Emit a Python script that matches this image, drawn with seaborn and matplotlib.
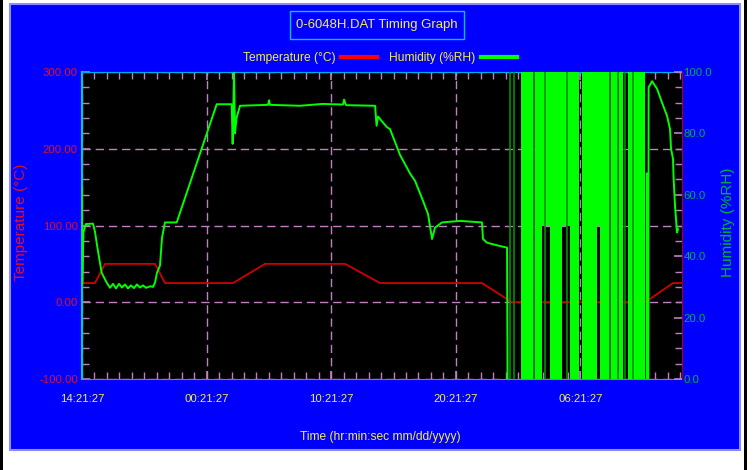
import matplotlib
matplotlib.use("Agg")
import matplotlib.pyplot as plt
from matplotlib import font_manager
from matplotlib.lines import Line2D
from matplotlib.patches import Rectangle
from matplotlib.ticker import FixedLocator, MultipleLocator, FormatStrFormatter
import seaborn as sns

W, H = 753, 470

# time axis: hours after the first reading (14:21:27)
x_ticks = [0, 10, 20, 30, 40]
x_tick_labels = ["14:21:27", "00:21:27", "10:21:27", "20:21:27", "06:21:27"]
x_max = 48.15

# temperature (deg C, left axis)
temp_time = [0.0, 1.04, 1.85, 5.86, 6.66, 12.12, 14.69, 21.11, 23.92,
             32.10, 34.51, 45.19, 47.43, 48.15]
temp_vals = [25, 25, 50, 50, 25, 25, 50, 50, 25, 25, 0, 0, 25, 25]

# humidity (%RH, right axis) before the sensor fault
hum_time = [0.0, 0.02, 0.12, 0.32, 0.88, 1.04, 1.28, 1.58, 1.98, 2.25, 2.49,
            2.73, 2.97, 3.21, 3.45, 3.69, 3.93, 4.17, 4.41, 4.65, 4.90, 5.14,
            5.46, 5.70, 5.86, 6.02, 6.26, 6.42, 6.66, 7.60, 10.81, 12.01,
            12.09, 12.20, 12.28, 12.40, 12.68, 14.93, 15.01, 15.09, 17.50,
            19.30, 20.95, 21.03, 21.19, 23.52, 23.64, 23.76, 24.16, 24.48,
            24.72, 25.52, 26.32, 26.73, 27.37, 27.77, 28.09, 28.33, 28.89,
            30.34, 32.10, 32.18, 32.50, 33.55, 34.11, 34.15]
hum_vals = [62, 31, 48, 50.5, 50.6, 48, 41.7, 34.6, 31.4, 29.7, 31, 29.5, 31,
            29.8, 30.8, 29.5, 30.5, 29.6, 30.8, 29.8, 30.5, 29.7, 30.2, 30,
            31.4, 34.6, 37, 46, 51, 51, 89.5, 89.5, 76.6, 100, 80, 85, 89,
            89.3, 90.8, 89.3, 89.0, 89.6, 89.4, 91, 89.2, 89, 82.5, 85.5,
            83.5, 82, 81.4, 73, 67, 64.5, 58, 53.7, 45.6, 49.3, 51, 51.5, 51,
            45.6, 44.4, 43.3, 42.8, 0]

# humidity after the fault
hum_tail_time = [45.32, 45.33, 45.34, 45.45, 45.47, 45.75, 46.15, 46.55,
                 46.95, 47.19, 47.27, 47.43, 47.47, 47.59, 47.75, 47.83]
hum_tail_vals = [0, 67, 0, 0, 95, 97, 94.5, 90, 85.7, 81.4, 75, 71.7, 66,
                 56.4, 47.7, 48.8]

# sensor fault: readings swinging between the floor and 100 %RH
fault_start = [35.21, 36.36, 36.89, 37.56, 38.50, 39.17, 40.10, 41.31,
               41.57, 42.46, 43.10, 43.84]
fault_end = [36.22, 36.89, 37.56, 38.50, 39.17, 39.89, 41.31, 41.57,
             42.30, 42.98, 43.44, 45.18]
fault_floor = [0, 0, 50, 0, 50, 0, 0, 50, 0, 0, 0, 0]
fault_dim = [34.35, 34.67, 36.30, 37.16, 38.90, 42.38, 43.04, 43.58, 44.25]

title = "0-6048H.DAT Timing Graph"

# fonts
names = {f.name for f in font_manager.fontManager.ttflist}
if "Liberation Sans Narrow" in names:
    narrow, k = "Liberation Sans Narrow", 1.0
else:
    narrow, k = "Liberation Sans", 0.82
regular = "Liberation Sans" if "Liberation Sans" in names else "DejaVu Sans"
plt.rcParams['font.family'] = [narrow, 'DejaVu Sans']

yellow = '#f4f040'
pink = '#c080c0'
red_txt = '#e0102a'
green_txt = '#00b040'

fig = plt.figure(figsize=(W / 100, H / 100), dpi=100)
fig.patch.set_facecolor('white')

# blue panel, title frame and the dark edges of the screenshot
fig.add_artist(Rectangle((10 / W, 1 - 450 / H), 730 / W, 446 / H,
                         transform=fig.transFigure, facecolor='#0000ff',
                         edgecolor='#8c8cff', linewidth=1.5, zorder=-5))
fig.add_artist(Rectangle((290 / W, 1 - 39 / H), 174 / W, 28 / H,
                         transform=fig.transFigure, facecolor='none',
                         edgecolor='#00c0ff', linewidth=1, zorder=2))
for x0 in (0, 744):
    fig.add_artist(Rectangle((x0 / W, 0), 3 / W, 1, transform=fig.transFigure,
                             facecolor='black', edgecolor='none', zorder=-5))

ax = fig.add_axes([82 / W, 1 - 379 / H, 600 / W, 307 / H])
ax.set_facecolor('black')
ax2 = ax.twinx()

sns.lineplot(x=temp_time, y=temp_vals, ax=ax, color='#d00000',
             linewidth=1.3, estimator=None, sort=False)

for s, e, f in zip(fault_start, fault_end, fault_floor):
    ax2.fill_between([s, e], [f, f], [100, 100], color='#00ff00',
                     linewidth=0)
ax2.vlines(fault_dim, 0, 100, color='#009000', linewidth=1.2)
sns.lineplot(x=hum_time, y=hum_vals, ax=ax2, color='#00ff00',
             linewidth=1.4, estimator=None, sort=False)
sns.lineplot(x=hum_tail_time, y=hum_tail_vals, ax=ax2, color='#00ff00',
             linewidth=1.4, estimator=None, sort=False)

ax.set_xlim(0, x_max)
ax.set_ylim(-100, 300)
ax2.set_ylim(0, 100)

# grid
ax.set_axisbelow(True)
ax.grid(which='major', color=pink, linestyle=(0, (6, 3.5)), linewidth=1)

# x ticks
ax.xaxis.set_major_locator(FixedLocator(x_ticks))
ax.set_xticklabels(x_tick_labels)
ax.xaxis.set_minor_locator(MultipleLocator(1))
ax.tick_params(axis='x', which='both', direction='in', top=True, bottom=True,
               color=pink, labelcolor=yellow, labelsize=10 * k, pad=11)
ax.tick_params(axis='x', which='major', length=6, width=1.2)
ax.tick_params(axis='x', which='minor', length=5, width=1)

# left axis
ax.yaxis.set_major_locator(MultipleLocator(100))
ax.yaxis.set_minor_locator(MultipleLocator(20))
ax.yaxis.set_major_formatter(FormatStrFormatter('%.2f'))
ax.tick_params(axis='y', which='both', direction='in', left=True, right=False,
               color=pink, labelcolor=red_txt, labelsize=10 * k, pad=3)
ax.tick_params(axis='y', which='major', length=6, width=1.2)
ax.tick_params(axis='y', which='minor', length=5, width=1)

# right axis
ax2.yaxis.set_major_locator(MultipleLocator(20))
ax2.yaxis.set_minor_locator(MultipleLocator(5))
ax2.yaxis.set_major_formatter(FormatStrFormatter('%.1f'))
ax2.tick_params(axis='y', which='both', direction='in', right=True,
                color=pink, labelcolor=green_txt, labelsize=10 * k, pad=1)
ax2.tick_params(axis='y', which='major', length=6, width=1.2)
ax2.tick_params(axis='y', which='minor', length=5, width=1)

# spines
for a in (ax, ax2):
    for sp in a.spines.values():
        sp.set_visible(False)
ax.spines['left'].set_visible(True)
ax.spines['left'].set_color('#00c8c8')
ax.spines['left'].set_linewidth(1.5)
ax.spines['top'].set_visible(True)
ax.spines['top'].set_color('#00a8f0')
ax.spines['bottom'].set_visible(True)
ax.spines['bottom'].set_color('#a060d0')
ax2.spines['right'].set_visible(True)
ax2.spines['right'].set_color('#a00020')

# axis labels
ax.set_xlabel("Time (hr:min:sec mm/dd/yyyy)", color=yellow,
              fontsize=10.5 * k, va='center')
ax.xaxis.set_label_coords((380 - 82) / 600, (379 - 437) / 307)
ax.set_ylabel("Temperature (°C)", color=red_txt, fontsize=11,
              family=[regular, 'DejaVu Sans'], va='center')
ax.yaxis.set_label_coords((21 - 82) / 600, (379 - 222) / 307)
ax2.set_ylabel("Humidity (%RH)", color=green_txt, fontsize=11, rotation=90,
               family=[regular, 'DejaVu Sans'], va='center')
ax2.yaxis.set_label_coords((728 - 82) / 600, (379 - 222) / 307)

# title
fig.text(377 / W, 1 - 25 / H, title, ha='center', va='center',
         color=yellow, fontsize=11.5 * k)

# legend
handles = [Line2D([], [], color='#ff0000', linewidth=3),
           Line2D([], [], color='#00ff00', linewidth=3)]
fig.legend(handles, ["Temperature (°C)", "Humidity (%RH)"], loc='center',
           bbox_to_anchor=(380 / W, 1 - 58 / H), ncol=2, frameon=False,
           markerfirst=False, handlelength=3.0, handletextpad=0.5,
           columnspacing=1.0, labelcolor=yellow,
           prop={'family': [narrow, 'DejaVu Sans'], 'size': 10.5 * k})

fig.savefig('out.png', dpi=100)
